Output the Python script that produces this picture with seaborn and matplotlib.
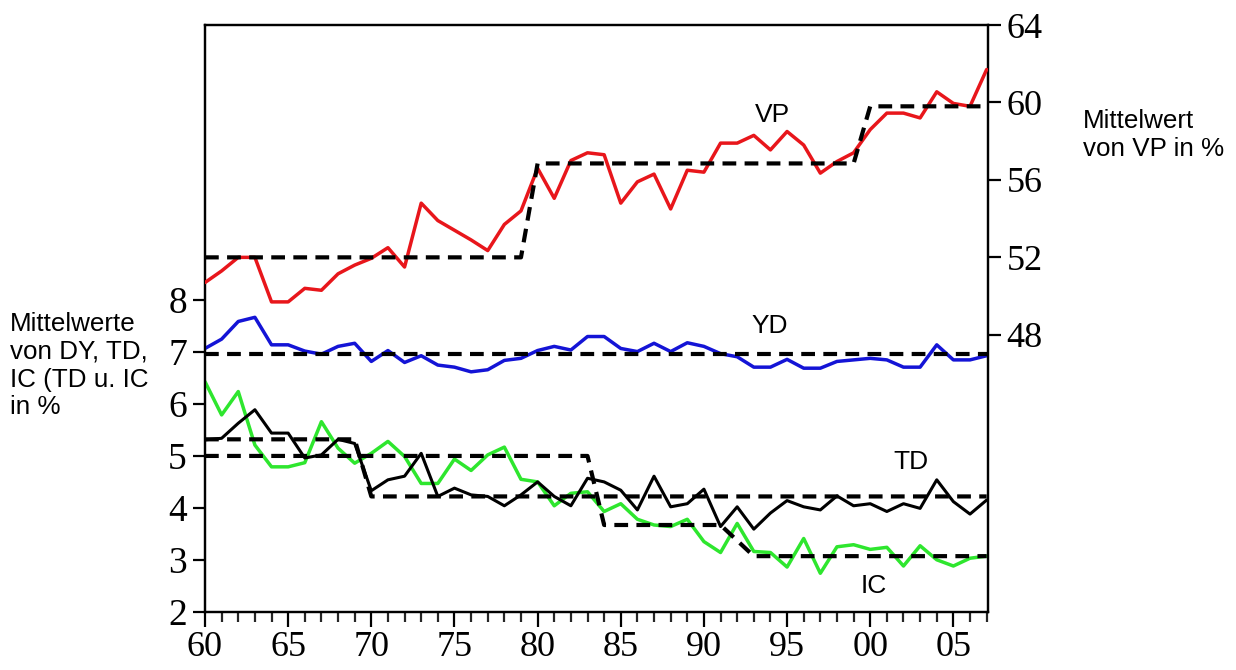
import numpy as np
import pandas as pd
import matplotlib
matplotlib.use("Agg")
import matplotlib.pyplot as plt
import seaborn as sns
from matplotlib.ticker import MultipleLocator, FuncFormatter

# ---------------- data ----------------
years = list(range(1960, 2008))

vp = [50.7, 51.3, 52.0, 52.0, 49.7, 49.7, 50.4, 50.3, 51.15, 51.6,
      51.95, 52.5, 51.5, 54.8, 53.9, 53.4, 52.9, 52.35, 53.7, 54.4,
      56.6, 55.05, 57.0, 57.4, 57.3, 54.8, 55.9, 56.3, 54.5, 56.5,
      56.4, 57.9, 57.9, 58.3, 57.55, 58.5, 57.8, 56.35, 56.95, 57.4,
      58.6, 59.45, 59.45, 59.2, 60.55, 59.95, 59.8, 61.7]

yd = [7.07, 7.25, 7.59, 7.67, 7.14, 7.14, 7.02, 6.96, 7.11, 7.17,
      6.82, 7.03, 6.80, 6.93, 6.75, 6.71, 6.62, 6.66, 6.84, 6.88,
      7.03, 7.11, 7.04, 7.30, 7.30, 7.07, 7.01, 7.17, 7.01, 7.18,
      7.11, 6.97, 6.91, 6.71, 6.71, 6.86, 6.69, 6.69, 6.82, 6.85,
      6.88, 6.85, 6.71, 6.71, 7.14, 6.85, 6.85, 6.93]

ic = [6.43, 5.79, 6.24, 5.21, 4.79, 4.79, 4.87, 5.66, 5.15, 4.86,
      5.05, 5.28, 4.99, 4.47, 4.47, 4.94, 4.72, 5.02, 5.17, 4.55,
      4.50, 4.04, 4.28, 4.31, 3.93, 4.08, 3.78, 3.67, 3.64, 3.78,
      3.35, 3.14, 3.70, 3.16, 3.14, 2.86, 3.41, 2.74, 3.25, 3.29,
      3.20, 3.24, 2.88, 3.27, 3.00, 2.88, 3.03, 3.07]

td = [5.31, 5.34, 5.63, 5.89, 5.44, 5.44, 4.96, 5.02, 5.32, 5.24,
      4.33, 4.54, 4.61, 5.05, 4.22, 4.38, 4.25, 4.22, 4.04, 4.25,
      4.50, 4.22, 4.04, 4.57, 4.50, 4.34, 3.96, 4.61, 4.02, 4.08,
      4.36, 3.64, 4.02, 3.59, 3.90, 4.14, 4.02, 3.96, 4.23, 4.04,
      4.08, 3.93, 4.08, 3.99, 4.54, 4.12, 3.88, 4.15]

# regime means (step lines)
vp_mean_x = [1960, 1979, 1980, 1999, 2000, 2007]
vp_mean_y = [52.0, 52.0, 56.85, 56.85, 59.8, 59.8]
yd_mean_x = [1960, 2007]
yd_mean_y = [6.97, 6.97]
td_mean_x = [1960, 1969, 1970, 2007]
td_mean_y = [5.32, 5.32, 4.22, 4.22]
ic_mean_x = [1960, 1983, 1984, 1991, 1993, 2007]
ic_mean_y = [5.0, 5.0, 3.67, 3.67, 3.07, 3.07]

left_ticks = [2, 3, 4, 5, 6, 7, 8]
right_ticks = [48, 52, 56, 60, 64]

# ---------------- style ----------------
sns.set_theme(style="white")
plt.rcParams["font.family"] = ["Liberation Sans", "DejaVu Sans"]

RED = "#e8161b"
BLUE = "#1414d6"
GREEN = "#2ee62e"
BLACK = "#000000"
SERIF = ["Liberation Serif", "DejaVu Serif"]

fig = plt.figure(figsize=(12.36, 6.70), dpi=100)
ax = fig.add_axes([205 / 1236, 1 - 611.7 / 670, (988.3 - 205) / 1236, (611.7 - 25) / 670])
ax2 = ax.twinx()

df = pd.DataFrame({"year": years, "VP": vp, "YD": yd, "IC": ic, "TD": td})

lw_col = 2.5
dash_kw = dict(color=BLACK, lw=3.0, dashes=(3.3, 2.0), dash_capstyle="butt", zorder=4)

# left axis series
sns.lineplot(data=df, x="year", y="YD", ax=ax, color=BLUE, lw=lw_col, zorder=3)
sns.lineplot(data=df, x="year", y="IC", ax=ax, color=GREEN, lw=lw_col, zorder=3)
sns.lineplot(data=df, x="year", y="TD", ax=ax, color=BLACK, lw=2.2, zorder=3)
ax.plot(yd_mean_x, yd_mean_y, **dash_kw)
ax.plot(td_mean_x, td_mean_y, **dash_kw)
ax.plot(ic_mean_x, ic_mean_y, **dash_kw)

# right axis series
sns.lineplot(data=df, x="year", y="VP", ax=ax2, color=RED, lw=lw_col, zorder=3)
ax2.plot(vp_mean_x, vp_mean_y, **dash_kw)

ax.set_xlim(1960, 2007.1)
ax.set_ylim(2, 13.3)
ax2.set_ylim(33.7, 64)

ax.set_xlabel("")
ax.set_ylabel("")
ax2.set_xlabel("")
ax2.set_ylabel("")

ax.set_yticks(left_ticks)
ax2.set_yticks(right_ticks)
ax.xaxis.set_major_locator(MultipleLocator(5))
ax.xaxis.set_minor_locator(MultipleLocator(1))
ax.xaxis.set_major_formatter(FuncFormatter(lambda v, p: f"{int(round(v)) % 100:02d}"))

for a in (ax, ax2):
    for s in a.spines.values():
        s.set_visible(True)
        s.set_color(BLACK)
        s.set_linewidth(1.6)

ax.tick_params(axis="x", which="major", direction="out", length=11, width=1.6,
               pad=3, labelsize=26, colors=BLACK, bottom=True)
ax.tick_params(axis="x", which="minor", direction="out", length=7, width=1.6, bottom=True)
ax.tick_params(axis="y", which="major", direction="out", length=9, width=1.6,
               pad=4, labelsize=27, colors=BLACK, left=True)
ax2.tick_params(axis="y", which="major", direction="out", length=9, width=1.6,
                pad=4, labelsize=26, colors=BLACK, right=True)

for lab in ax.get_xticklabels() + ax.get_yticklabels() + ax2.get_yticklabels():
    lab.set_family(SERIF)

# series labels
ax2.text(1994.1, 59.33, "VP", fontsize=19, ha="center", va="center", color=BLACK)
ax.text(1993.95, 7.50, "YD", fontsize=19, ha="center", va="center", color=BLACK)
ax.text(2002.45, 4.875, "TD", fontsize=19, ha="center", va="center", color=BLACK)
ax.text(2000.2, 2.50, "IC", fontsize=19, ha="center", va="center", color=BLACK)

# axis descriptions
fig.text(10 / 1236, 1 - 312 / 670, "Mittelwerte\nvon DY, TD,\nIC (TD u. IC\nin %",
         fontsize=18.7, ha="left", va="top", linespacing=1.2, color=BLACK)
fig.text(1083 / 1236, 1 - 109 / 670, "Mittelwert\nvon VP in %",
         fontsize=18.7, ha="left", va="top", linespacing=1.2, color=BLACK)

fig.savefig("out.png", dpi=100, facecolor="white")
